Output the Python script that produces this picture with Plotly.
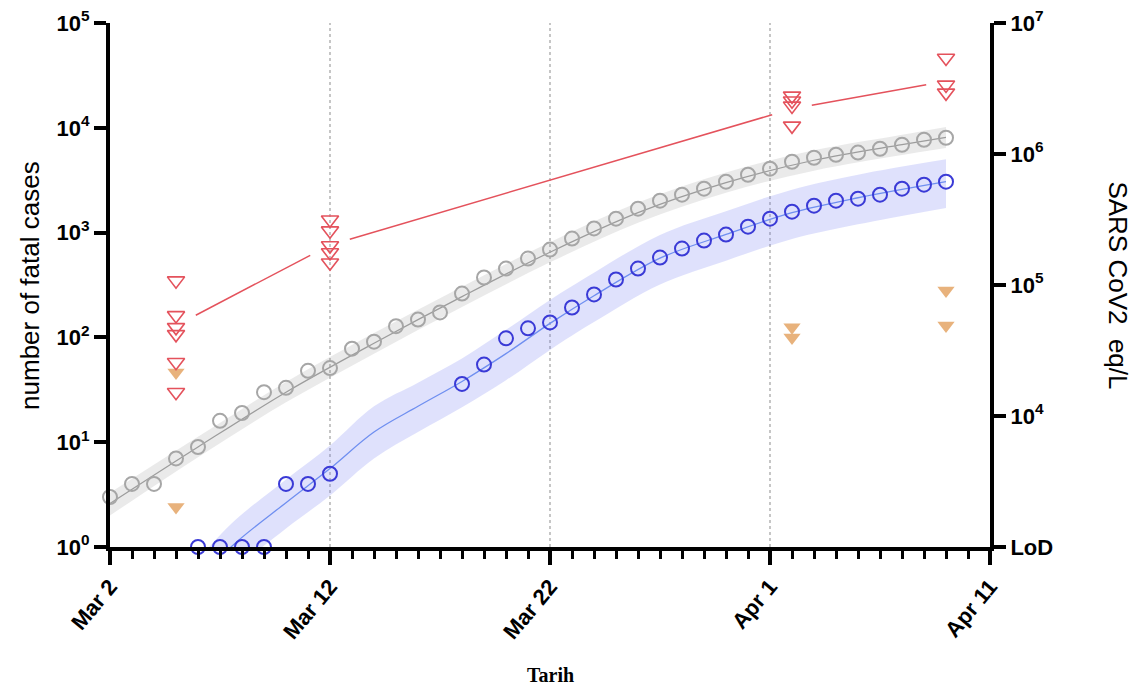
import math
import pandas as pd
import plotly.graph_objects as go

START = pd.Timestamp("2020-03-02")

# ---------------- data ----------------
# gray: daily series (left axis), day offsets from Mar 2
gray_days = [0, 1, 2, 3, 4, 5, 6, 7, 8, 9, 10, 11, 12, 13, 14, 15, 16, 17, 18, 19,
             20, 21, 22, 23, 24, 25, 26, 27, 28, 29, 30, 31, 32, 33, 34, 35, 36, 37, 38]
gray_vals = [3, 4, 4, 7, 9, 16, 19, 30, 33, 48, 51, 78, 91, 128, 148, 173, 262, 373, 454, 565,
             689, 877, 1096, 1358, 1693, 2018, 2300, 2625, 3062, 3565, 4073, 4745, 5180, 5530, 5800,
             6310, 6890, 7690, 8040]
# gray fitted curve and band
gray_fit_days = [0, 4, 8, 12, 16, 20, 24, 28, 32, 36, 38]
gray_fit_mid = [2.6, 9, 30, 88, 245, 650, 1550, 3000, 4900, 6900, 8100]
gray_fit_lo = [2.0, 7.2, 24, 70, 195, 520, 1240, 2400, 3900, 5500, 6400]
gray_fit_hi = [3.3, 11.3, 37.5, 110, 305, 810, 1940, 3750, 6100, 8600, 10200]

# blue: daily series (left axis)
blue_days = [4, 5, 6, 7, 8, 9, 10, 16, 17, 18, 19, 20, 21, 22, 23, 24, 25, 26, 27, 28,
             29, 30, 31, 32, 33, 34, 35, 36, 37, 38]
blue_vals = [1, 1, 1, 1, 4, 4, 5, 36, 55, 98, 122, 139, 193, 257, 357, 454, 578, 704, 839, 958,
             1140, 1358, 1585, 1807, 2018, 2109, 2300, 2625, 2866, 3062]
blue_fit_days = [4, 5.5, 8, 10, 12, 14, 16, 18, 20, 22, 25, 28, 31, 34, 38]
blue_fit_mid = [0.45, 1.0, 2.65, 5.6, 12.5, 22, 38, 70, 136, 250, 570, 960, 1550, 2150, 3062]
blue_fit_lo = [0.25, 0.56, 1.5, 3.1, 7.0, 12.5, 21.5, 39, 76, 140, 320, 540, 870, 1200, 1720]
blue_fit_hi = [0.75, 1.66, 4.4, 9.3, 22, 37, 63, 118, 228, 415, 950, 1600, 2570, 3570, 5000]

# red: wastewater samples (right axis, SARS CoV2 eq/L)
red_days = [3, 3, 3, 3, 3, 3, 10, 10, 10, 10, 10, 31, 31, 31, 31, 38, 38, 38]
red_vals = [108000, 58600, 47500, 42000, 25700, 15200,
            315000, 260000, 200000, 177000, 148000,
            2780000, 2550000, 2330000, 1640000,
            5410000, 3370000, 2930000]
red_mean_days = [3, 10, 31, 38]
red_mean_vals = [49000, 202000, 2210000, 3600000]

# orange: second wastewater series (right axis); 1000 = LoD
orange_days = [3, 3, 3, 31, 31, 38, 38, 38]
orange_vals = [21500, 2020, 1000, 47500, 39800, 90800, 49100, 1000]

grid_days = [10, 20, 30]
x_tick_days = [0, 10, 20, 30, 40]
x_tick_text = ["Mar 2", "Mar 12", "Mar 22", "Apr 1", "Apr 11"]
y_tick_vals = [1, 10, 100, 1000, 10000, 100000]
y_tick_text = ["10<sup>0</sup>", "10<sup>1</sup>", "10<sup>2</sup>", "10<sup>3</sup>",
               "10<sup>4</sup>", "10<sup>5</sup>"]
y2_tick_vals = [1e3, 1e4, 1e5, 1e6, 1e7]
y2_tick_text = ["LoD", "10<sup>4</sup>", "10<sup>5</sup>", "10<sup>6</sup>", "10<sup>7</sup>"]


def to_date(days):
    return [START + pd.Timedelta(hours=24 * d) for d in days]


# ---------------- styles ----------------
RED = "#e4525c"
ORANGE = "#e8b27c"
BLUE = "#3a3ad6"
BLUE_LINE = "#6f8ff0"
BLUE_BAND = "rgba(110,120,240,0.22)"
GRAY = "#a6a6a6"
GRAY_LINE = "#9c9c9c"
GRAY_BAND = "rgba(150,150,150,0.2)"
FONT = "Liberation Sans, Arial, sans-serif"

fig = go.Figure()

# gray band + line
fig.add_trace(go.Scatter(x=to_date(gray_fit_days), y=gray_fit_hi, mode="lines",
                         line=dict(width=0, shape="spline"), showlegend=False, hoverinfo="skip"))
fig.add_trace(go.Scatter(x=to_date(gray_fit_days), y=gray_fit_lo, mode="lines",
                         line=dict(width=0, shape="spline"), fill="tonexty", fillcolor=GRAY_BAND,
                         showlegend=False, hoverinfo="skip"))
fig.add_trace(go.Scatter(x=to_date(gray_fit_days), y=gray_fit_mid, mode="lines",
                         line=dict(color=GRAY_LINE, width=1.2, shape="spline"), showlegend=False))

# blue band + line
fig.add_trace(go.Scatter(x=to_date(blue_fit_days), y=blue_fit_hi, mode="lines",
                         line=dict(width=0, shape="spline", smoothing=1), showlegend=False, hoverinfo="skip"))
fig.add_trace(go.Scatter(x=to_date(blue_fit_days), y=blue_fit_lo, mode="lines",
                         line=dict(width=0, shape="spline", smoothing=1), fill="tonexty", fillcolor=BLUE_BAND,
                         showlegend=False, hoverinfo="skip"))
fig.add_trace(go.Scatter(x=to_date(blue_fit_days), y=blue_fit_mid, mode="lines",
                         line=dict(color=BLUE_LINE, width=1.3, shape="spline", smoothing=1), showlegend=False))

# circles
fig.add_trace(go.Scatter(x=to_date(gray_days), y=gray_vals, mode="markers", cliponaxis=False,
                         marker=dict(symbol="circle-open", size=14, color=GRAY, line=dict(width=2, color=GRAY)),
                         showlegend=False))
fig.add_trace(go.Scatter(x=to_date(blue_days), y=blue_vals, mode="markers", cliponaxis=False,
                         marker=dict(symbol="circle-open", size=14, color=BLUE, line=dict(width=2, color=BLUE)),
                         showlegend=False))

# red mean line, broken around the sample groups
GAP = 0.9
seg_x, seg_y = [], []
for i in range(len(red_mean_days) - 1):
    d0, d1 = red_mean_days[i], red_mean_days[i + 1]
    l0, l1 = math.log10(red_mean_vals[i]), math.log10(red_mean_vals[i + 1])
    for d in (d0 + GAP, d1 - GAP):
        t = (d - d0) / (d1 - d0)
        seg_x.append(START + pd.Timedelta(hours=24 * d))
        seg_y.append(10 ** (l0 + t * (l1 - l0)))
    seg_x.append(None)
    seg_y.append(None)
fig.add_trace(go.Scatter(x=seg_x, y=seg_y, mode="lines", yaxis="y2",
                         line=dict(color=RED, width=1.5), showlegend=False, connectgaps=False))

fig.add_trace(go.Scatter(x=to_date(orange_days), y=orange_vals, mode="markers", yaxis="y2",
                         cliponaxis=False,
                         marker=dict(symbol="triangle-down", size=15, color=ORANGE, line=dict(width=0)),
                         showlegend=False))
fig.add_trace(go.Scatter(x=to_date(red_days), y=red_vals, mode="markers", yaxis="y2",
                         cliponaxis=False,
                         marker=dict(symbol="triangle-down-open", size=15, color=RED,
                                     line=dict(width=1.6, color=RED)),
                         showlegend=False))

# dotted vertical guides
for d in grid_days:
    dd = START + pd.Timedelta(days=d)
    fig.add_shape(type="line", xref="x", yref="paper", x0=dd, x1=dd, y0=0, y1=1,
                  line=dict(color="#a0a0a0", width=1.2, dash="dot"), layer="below")

tickfont = dict(family=FONT, size=22, color="black", weight="bold")

fig.update_layout(
    width=1148, height=693,
    margin=dict(l=102, r=166, t=15, b=154, autoexpand=False),
    paper_bgcolor="white", plot_bgcolor="white",
    showlegend=False,
    xaxis=dict(
        type="date", automargin=False,
        range=[START, START + pd.Timedelta(days=40)],
        tickmode="array",
        tickvals=to_date(x_tick_days),
        ticktext=x_tick_text,
        tickangle=-50,
        ticks="outside", ticklen=14, tickwidth=4, tickcolor="black",
        showline=True, linewidth=4, linecolor="black",
        showgrid=False, zeroline=False, ticklabeloverflow="allow",
        tickfont=dict(family=FONT, size=22, color="black", weight="bold"),
        minor=dict(tickmode="linear", tick0=START, dtick=86400000, ticks="outside",
                   ticklen=8, tickwidth=3, tickcolor="black", showgrid=False),
    ),
    yaxis=dict(
        type="log", range=[0, 5], automargin=False,
        tickmode="array", tickvals=y_tick_vals, ticktext=y_tick_text,
        ticks="outside", ticklen=12, tickwidth=4, tickcolor="black",
        showline=True, linewidth=4, linecolor="black", ticklabeloverflow="allow",
        showgrid=False, zeroline=False, tickfont=tickfont,
    ),
    yaxis2=dict(
        type="log", range=[3, 7], overlaying="y", side="right", automargin=False,
        tickmode="array", tickvals=y2_tick_vals, ticktext=y2_tick_text,
        ticks="outside", ticklen=12, tickwidth=4, tickcolor="black",
        showline=True, linewidth=4, linecolor="black", ticklabeloverflow="allow",
        showgrid=False, zeroline=False, tickfont=tickfont,
    ),
    annotations=[
        dict(text="number of fatal cases", xref="paper", yref="paper", x=-0.091, y=0.5,
             xanchor="center", yanchor="middle", textangle=-90, showarrow=False,
             font=dict(family=FONT, size=26, color="black")),
        dict(text="SARS CoV2  eq/L", xref="paper", yref="paper", x=1.145, y=0.5,
             xanchor="center", yanchor="middle", textangle=90, showarrow=False,
             font=dict(family=FONT, size=26, color="black")),
        dict(text="<b>Tarih</b>", xref="paper", yref="paper", x=0.5, y=-0.245,
             xanchor="center", yanchor="middle", showarrow=False,
             font=dict(family="Liberation Serif, Times New Roman, serif", size=20, color="black")),
    ],
)

fig.write_html("out.html")
